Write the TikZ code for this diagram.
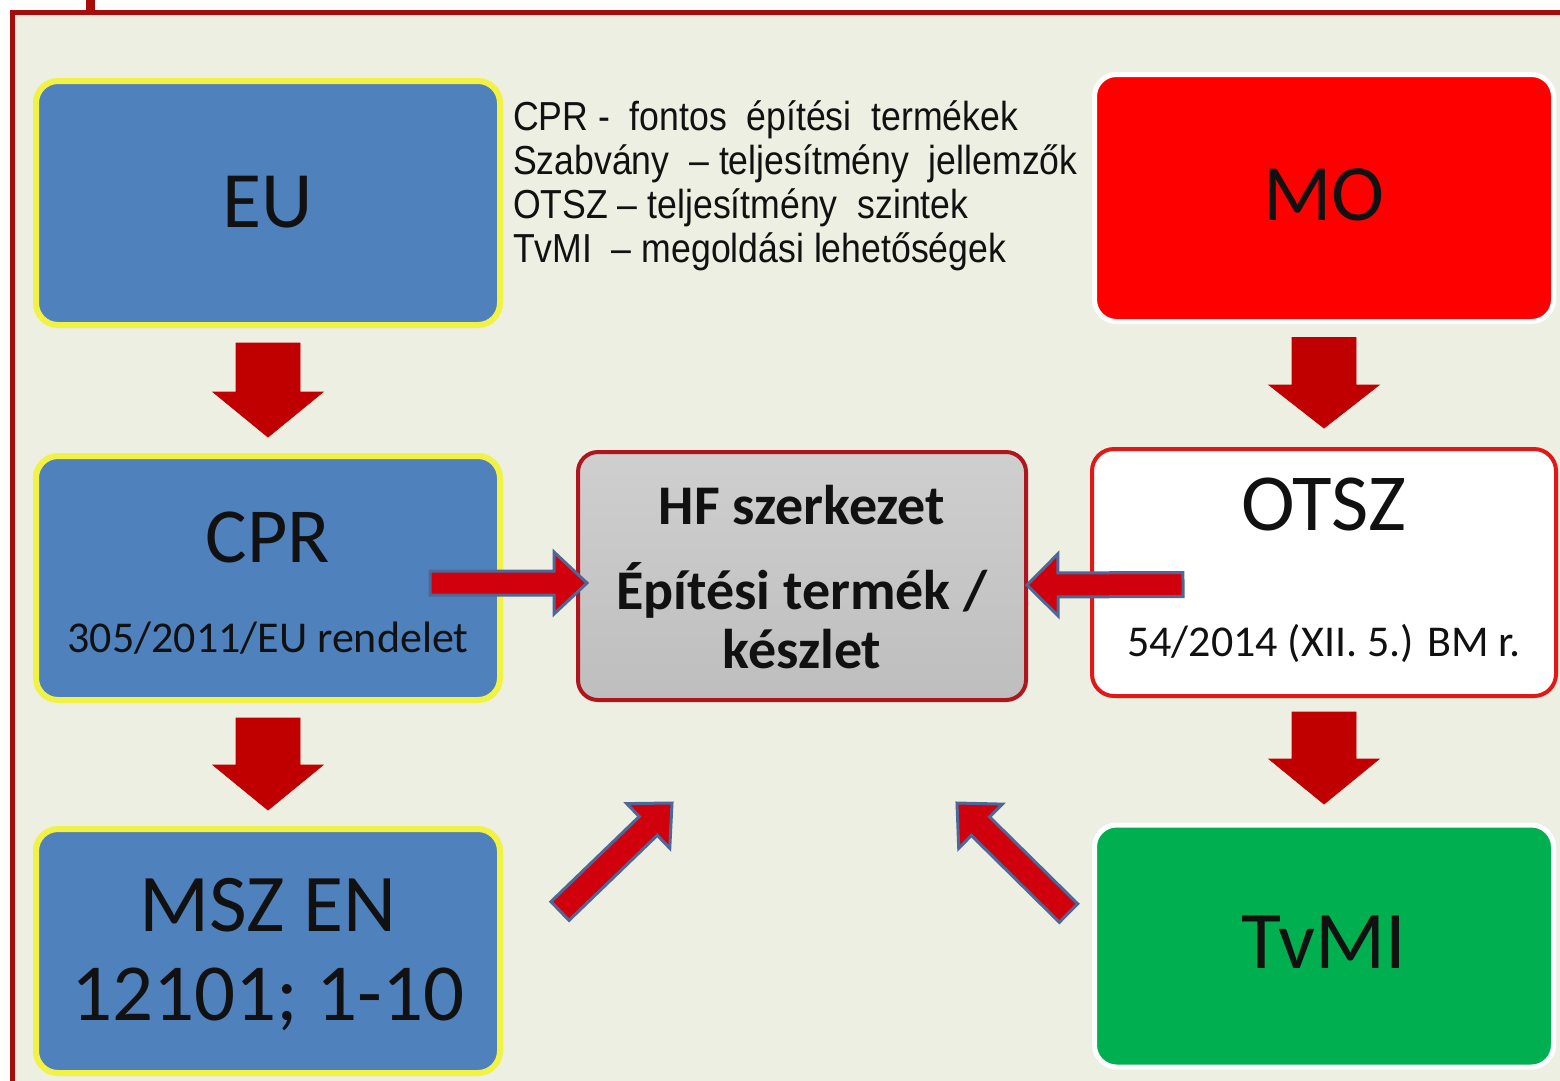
\documentclass[tikz,border=0pt]{standalone}
\usepackage{fontspec}
\setmainfont{Carlito}
\newfontfamily\arialf[FakeStretch=0.88]{Liberation Sans}
\usetikzlibrary{calc}
\definecolor{bgc}{HTML}{ECEFE1}
\definecolor{framec}{HTML}{A60C0C}
\definecolor{boxblue}{HTML}{4F81BD}
\definecolor{yel}{HTML}{F2F244}
\definecolor{mored}{HTML}{FF0000}
\definecolor{tvgreen}{HTML}{00B050}
\definecolor{arrred}{HTML}{C00000}
\definecolor{arrfill}{HTML}{D0000C}
\definecolor{arrblue}{HTML}{4D6898}
\definecolor{hftop}{HTML}{CFCFCF}
\definecolor{hfbot}{HTML}{BEBEBE}
\definecolor{hfborder}{HTML}{B0141C}
\definecolor{otszred}{HTML}{E01818}
\definecolor{txt}{HTML}{111111}

\newcommand\blockarrow[6]{%
  \coordinate (bahb) at ($(#2)!#5!(#1)$);
  \filldraw[#6] ($(#1)!#3!90:(#2)$) -- ($(bahb)!#3!90:(#2)$) -- ($(bahb)!#4!90:(#2)$) -- (#2)
    -- ($(bahb)!#4!-90:(#2)$) -- ($(bahb)!#3!-90:(#2)$) -- ($(#1)!#3!-90:(#2)$) -- cycle;
}

\begin{document}
\begin{tikzpicture}[x=1pt,y=-1pt,
  every node/.style={inner sep=0pt, outer sep=0pt, text=txt},
  bluebox/.style={draw=yel, line width=6pt, fill=boxblue, rounded corners=22pt, minimum width=464pt, minimum height=244pt},
  mobox/.style={draw=white, line width=5pt, fill=mored, rounded corners=22pt, minimum width=459pt, minimum height=247pt},
  otszbox/.style={draw=otszred, line width=4pt, fill=white, rounded corners=22pt, minimum width=464pt, minimum height=247pt},
  tvbox/.style={draw=white, line width=5pt, fill=tvgreen, rounded corners=22pt, minimum width=459pt, minimum height=242pt},
  hfbox/.style={draw=hfborder, line width=4pt, top color=hftop, bottom color=hfbot, rounded corners=20pt, minimum width=448pt, minimum height=248pt},
  big/.style={font=\fontsize{80}{90}\selectfont, anchor=base},
  mid/.style={font=\fontsize{78}{84}\selectfont, anchor=base},
  small/.style={font=\fontsize{44}{48}\selectfont, anchor=base},
  hft/.style={font=\bfseries\fontsize{56}{60}\selectfont, anchor=base},
  note/.style={font=\arialf\fontsize{40.5}{44}\selectfont, anchor=base west},
  downarr/.style={fill=arrred, draw=arrred, line width=0.8pt},
  sidearr/.style={fill=arrfill, draw=arrblue, line width=3pt, line join=miter}
]
\useasboundingbox (0,0) rectangle (1560,1080);
\clip (0,0) rectangle (1560,1080);
\fill[white] (0,0) rectangle (1560,1080);
\draw[framec, line width=5pt, fill=bgc] (12.5,12.5) rectangle (1640,1140);
\fill[framec] (86,0) rectangle (95,12);

% boxes
\node[bluebox] (eu) at (268,203) {};
\node[bluebox] (cpr) at (268,578) {};
\node[bluebox] (msz) at (268,951) {};
\node[mobox] (mo) at (1324,198) {};
\node[otszbox] (otsz) at (1324,572.5) {};
\node[tvbox] (tvmi) at (1324,946) {};
\node[hfbox] (hf) at (802,576) {};

% box texts
\node[big] (eut) at ($(eu.center)+(0,24)$) {EU};
\node[mid] (cprt) at ($(cpr.center)+(0,-16)$) {CPR};
\node[small] (cprs) at ($(cpr.center)+(0,74)$) {305/2011/EU rendelet};
\node[big, font=\fontsize{82}{90}\selectfont] (mszt1) at ($(msz.center)+(0,-20)$) {MSZ EN};
\node[big, font=\fontsize{81}{90}\selectfont] (mszt2) at ($(msz.center)+(0,69)$) {12101; 1-10};
\node[big] (mot) at ($(mo.center)+(0,22)$) {MO};
\node[mid, font=\fontsize{81}{84}\selectfont] (otszt) at ($(otsz.center)+(0,-42)$) {OTSZ};
\node[small] (otszs) at ($(otsz.center)+(0,84)$) {54/2014 (XII. 5.) BM r.};
\node[big, font=\fontsize{82}{90}\selectfont] (tvt) at ($(tvmi.center)+(0,22)$) {TvMI};
\node[hft] (hf1) at ($(hf.center)+(0,-52)$) {HF szerkezet};
\node[hft] (hf2) at ($(hf.center)+(0,33)$) {Építési termék /};
\node[hft] (hf3) at ($(hf.center)+(0,92)$) {készlet};

% note text
\node[note] (n1) at (513,130) {CPR -\ \ fontos\ \ építési\ \ termékek};
\node[note] (n2) at ($(n1.base west)+(0,44)$) {Szabvány\ \ – teljesítmény\ \ jellemzők};
\node[note] (n3) at ($(n2.base west)+(0,44)$) {OTSZ – teljesítmény\ \ szintek};
\node[note] (n4) at ($(n3.base west)+(0,44)$) {TvMI\ \ – megoldási lehetőségek};

% connector end points
\coordinate (a1s) at ($(eu.south)+(0,18)$);
\coordinate (a1t) at ($(cpr.north)+(0,-19)$);
\coordinate (a2s) at ($(cpr.south)+(0,18)$);
\coordinate (a2t) at ($(msz.north)+(0,-19)$);
\coordinate (a3s) at ($(mo.south)+(0,16)$);
\coordinate (a3t) at ($(otsz.north)+(0,-21)$);
\coordinate (a4s) at ($(otsz.south)+(0,16)$);
\coordinate (a4t) at ($(tvmi.north)+(0,-21)$);
\coordinate (h1s) at ($(cpr.east)+(-70,5)$);
\coordinate (h1t) at ($(hf.west)+(9,7)$);
\coordinate (h2s) at ($(otsz.west)+(91,12)$);
\coordinate (h2t) at ($(hf.east)+(1,9)$);
\coordinate (d1s) at ($(msz.east)+(60,-40)$);
\coordinate (d1t) at ($(hf.south)+(-130,103)$);
\coordinate (d2s) at ($(tvmi.west)+(-26,-33)$);
\coordinate (d2t) at ($(hf.south)+(155,103)$);

% connectors
\blockarrow{a1s}{a1t}{32pt}{55pt}{45pt}{downarr}
\blockarrow{a2s}{a2t}{32pt}{55pt}{45pt}{downarr}
\blockarrow{a3s}{a3t}{32pt}{55pt}{43pt}{downarr}
\blockarrow{a4s}{a4t}{32pt}{55pt}{45pt}{downarr}
\blockarrow{h1s}{h1t}{12pt}{31pt}{33pt}{sidearr}
\blockarrow{h2s}{h2t}{12pt}{31pt}{31pt}{sidearr}
\blockarrow{d1s}{d1t}{13pt}{31pt}{33pt}{sidearr}
\blockarrow{d2s}{d2t}{13pt}{31pt}{33pt}{sidearr}
\end{tikzpicture}
\end{document}
